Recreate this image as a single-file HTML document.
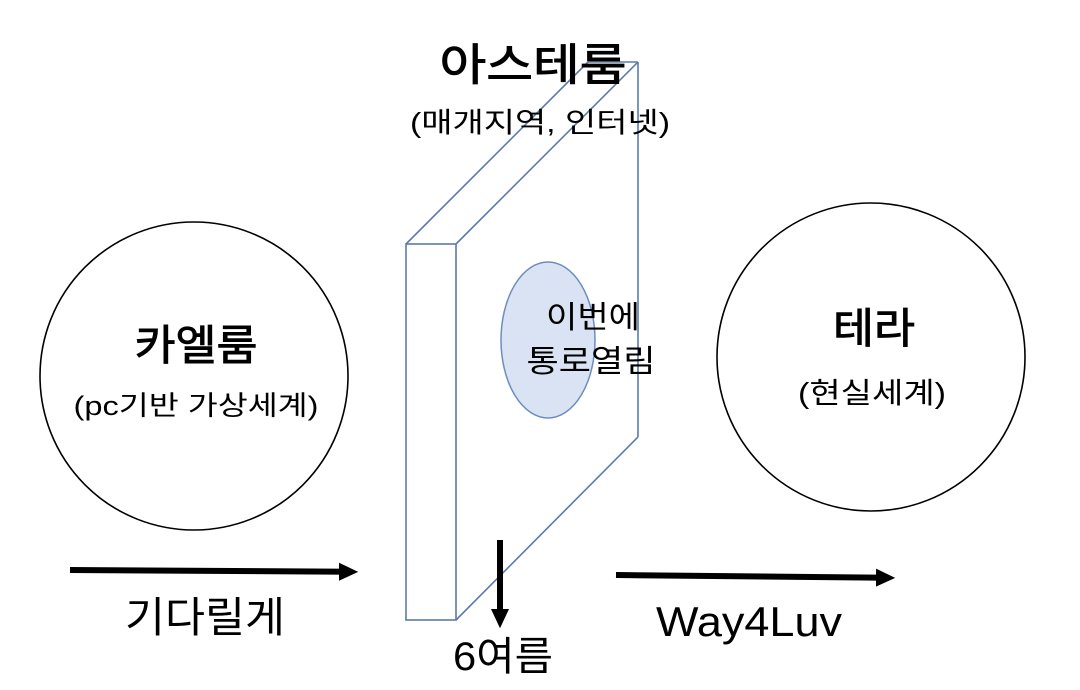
<!DOCTYPE html>
<html><head><meta charset="utf-8"><style>
html,body{margin:0;padding:0;background:#fff;}
svg{display:block;}
text{font-family:"Liberation Sans","Noto Sans CJK KR","NanumGothic",sans-serif;fill:#000;text-anchor:middle;}
.t{stroke:#000;stroke-width:0.9;}
</style></head><body>
<svg width="1080" height="690" viewBox="0 0 1080 690" xmlns="http://www.w3.org/2000/svg">
<defs>
<marker id="ah" markerWidth="4" markerHeight="4" refX="2" refY="2" orient="auto" markerUnits="strokeWidth">
<path d="M0,0.5 L3.2,2 L0,3.5 Z" fill="#000"/>
</marker>
</defs>
<g fill="none" stroke="#5b7bab" stroke-width="1.6">
<rect x="406" y="244" width="50" height="376"/>
<line x1="406" y1="244" x2="588" y2="62"/>
<line x1="456" y1="244" x2="638" y2="62"/>
<line x1="588" y1="62" x2="638" y2="62"/>
<line x1="638" y1="62" x2="638" y2="437"/>
<line x1="456" y1="620" x2="638" y2="437"/>
</g>
<ellipse cx="548" cy="340" rx="47" ry="78" fill="#dae3f3" stroke="#6c8ebf" stroke-width="1.5"/>
<circle cx="194" cy="376" r="154" fill="none" stroke="#000" stroke-width="1.6"/>
<circle cx="871" cy="357" r="154" fill="none" stroke="#000" stroke-width="1.6"/>
<line x1="70" y1="570" x2="351" y2="571.8" stroke="#000" stroke-width="6" marker-end="url(#ah)"/>
<line x1="616" y1="575" x2="888" y2="577.8" stroke="#000" stroke-width="6" marker-end="url(#ah)"/>
<line x1="500" y1="540" x2="500" y2="621" stroke="#000" stroke-width="6" marker-end="url(#ah)"/>
<text class="t" x="533" y="80" font-size="44" textLength="187" lengthAdjust="spacingAndGlyphs">아스테룸</text>
<text x="540" y="132" font-size="28" textLength="260" lengthAdjust="spacingAndGlyphs">(매개지역, 인터넷)</text>
<text class="t" x="196" y="360" font-size="42" textLength="123" lengthAdjust="spacingAndGlyphs">카엘룸</text>
<text x="196" y="415" font-size="27" textLength="245" lengthAdjust="spacingAndGlyphs">(pc기반 가상세계)</text>
<text class="t" x="874" y="343" font-size="42" textLength="82" lengthAdjust="spacingAndGlyphs">테라</text>
<text x="872" y="403" font-size="29" textLength="148" lengthAdjust="spacingAndGlyphs">(현실세계)</text>
<text x="593" y="328" font-size="31" textLength="94" lengthAdjust="spacingAndGlyphs">이번에</text>
<text x="591" y="372" font-size="31" textLength="129" lengthAdjust="spacingAndGlyphs">통로열림</text>
<text x="205" y="632" font-size="42" textLength="160" lengthAdjust="spacingAndGlyphs">기다릴게</text>
<text x="749" y="636" font-size="42" textLength="186" lengthAdjust="spacingAndGlyphs">Way4Luv</text>
<text x="503" y="670" font-size="40" textLength="100" lengthAdjust="spacingAndGlyphs">6여름</text>
</svg>
</body></html>
